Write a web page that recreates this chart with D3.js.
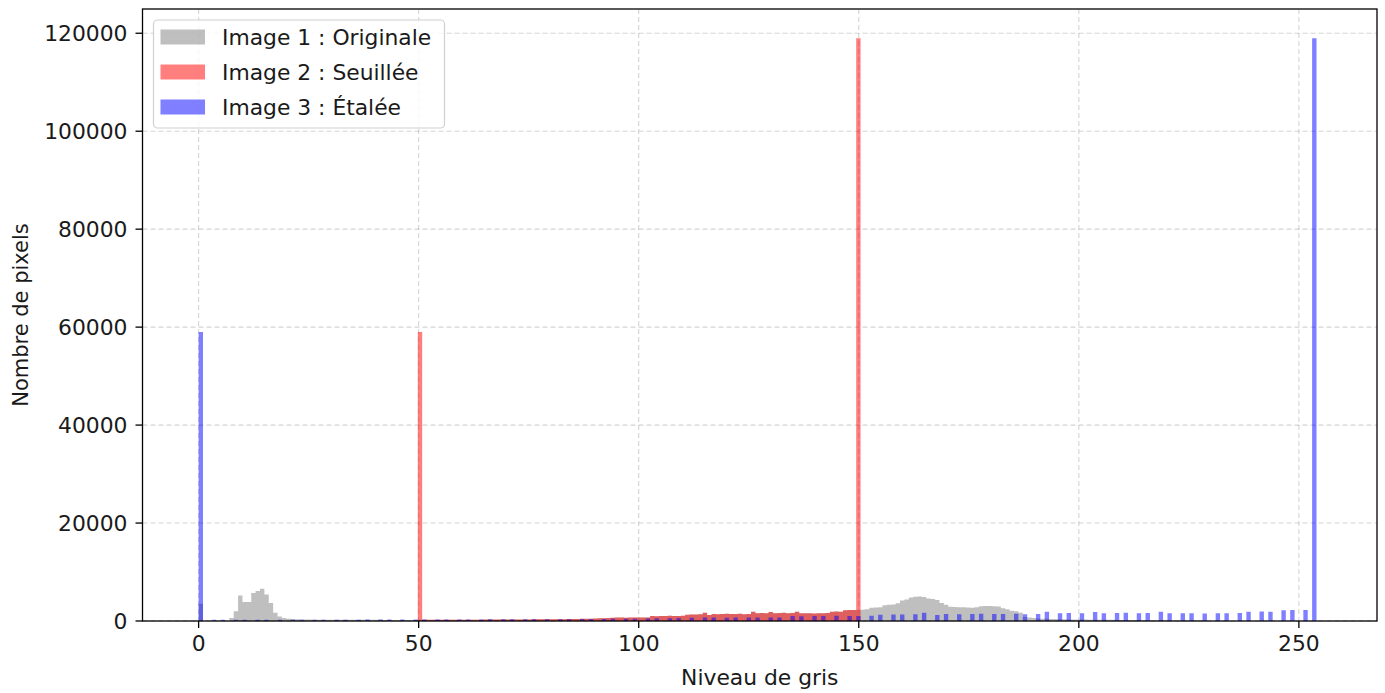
<!DOCTYPE html>
<html>
<head>
<meta charset="utf-8">
<script src="https://cdn.jsdelivr.net/npm/d3@7"></script>
<style>
  body { margin: 0; background: #fff; }
  text { font-family: "DejaVu Sans", sans-serif; fill: #1a1a1a; }
</style>
</head>
<body>
<div id="chart"></div>
<script>
// Histogram counts (256 bins over grey levels 0..255)
// Image 1 : bins 0..50
const grayLow = [3500, 0, 0, 0, 0, 0, 0, 600, 2000, 5200, 3900, 3900, 5700, 6100, 6600, 5400,
  3700, 1700, 900, 600, 450, 400, 350, 320, 300, 290, 280, 280, 270, 270, 260, 260, 250, 250,
  250, 240, 240, 240, 230, 230, 230, 230, 220, 220, 220, 220, 220, 220, 220, 220, 230];
// bins 51..149 (shared by Image 1 and Image 2, which is the clipped original)
const midCounts = [240, 240, 250, 250, 250, 260, 260, 260, 270, 270, 270, 280, 280, 280, 290,
  290, 300, 300, 300, 310, 310, 320, 320, 330, 330, 340, 340, 350, 350, 360, 360, 370, 380,
  390, 400, 420, 440, 460, 480, 500, 540, 580, 620,
  680, 690, 700, 680, 700, 720, 700, 690, 710,
  1000, 980, 1020, 1000, 1050, 1000, 1030, 1060,
  1300, 1350, 1320, 1380, 1700, 1250,
  1450, 1400, 1420, 1500, 1450, 1430, 1480, 1400, 1450,
  1900, 1600, 1650, 1600, 1850, 1600, 1620, 1700, 1600, 1650,
  1900, 1560, 1600, 1580, 1550, 1600, 1560, 1620,
  1900, 1950, 1900, 2200, 2250, 2250];
// bins 150..255
const grayHigh = [2250, 2300, 2400, 2700, 2750, 2800, 3200, 3300, 3350, 3600, 4200, 4400,
  4800, 4950, 5000, 4900, 4600, 4500, 4300, 3700, 3300,
  2900, 2850, 2800, 2800, 2750, 2700, 2800, 3000, 3050, 3050, 3000, 2950, 2600, 2400,
  2100, 2000, 1700, 800, 700, 600, 500, 470, 450, 420, 400,
  350, 340, 330, 320, 310, 300, 290, 280, 270, 260, 250, 240, 230, 220, 210, 200, 200, 190,
  180, 170, 160, 150, 150, 140, 130, 120, 120, 110, 110, 100, 100, 100, 100, 100,
  0, 0, 0, 0, 0, 0, 0, 0, 0, 0, 0, 0, 0, 0, 0, 0, 0, 0, 0, 0, 0, 0, 0, 0, 0, 0];

// Image 2 : everything below 50 piles up in bin 50, everything above 150 in bin 150
const redPeakBins = [50, 150];
const redPeakCounts = [59000, 119000];

// Image 3 : stretched, one bar every ~2.5 grey levels
const blueBins = [0, 3, 5, 8, 10, 13, 15, 18, 21, 23, 26, 28, 31, 33, 36, 38, 41, 43, 46, 49,
  51, 54, 56, 59, 61, 64, 66, 69, 71, 74, 76, 79, 82, 84, 87, 89, 92, 94, 97, 99,
  102, 104, 107, 109, 112, 115, 117, 120, 122, 125, 127, 130, 132, 135, 137, 140, 142, 145,
  148, 150, 153, 155, 158, 160, 163, 165, 168, 170, 173, 176, 178, 181, 183, 186, 188, 191,
  193, 196, 198, 201, 204, 206, 209, 211, 214, 216, 219, 221, 224, 226, 229, 232, 234, 237,
  239, 242, 244, 247, 249, 252, 254];
const blueEnds = [59000, 119000];

const legendLabels = ["Image 1 : Originale", "Image 2 : Seuillée", "Image 3 : Étalée"];
const seriesColors = ["gray", "red", "blue"];
const xTicks = [0, 50, 100, 150, 200, 250];
const yTicks = [0, 20000, 40000, 60000, 80000, 100000, 120000];

// build bin tables
const grayCounts = grayLow.concat(midCounts, grayHigh);
const redTable = redPeakBins.map((b, i) => ({ bin: b, count: redPeakCounts[i] }))
  .concat(midCounts.map((c, i) => ({ bin: 51 + i, count: c })));
const grayTable = grayCounts.map((c, i) => ({ bin: i, count: c })).filter(d => d.count > 0);
const blueCounts = [blueEnds[0]].concat(midCounts, [blueEnds[1]]);
const blueTable = blueBins.map((b, i) => ({ bin: b, count: blueCounts[i] }));

const W = 1385, H = 693;
const sx = 1.04;
const fs = 21;
const mL = 142.5, mR = 1377, mT = 9, mB = 621;
const binW = 255 / 256;

const x = d3.scaleLinear().domain([-12.75, 267.75]).range([mL, mR]);
const y = d3.scaleLinear().domain([0, 124950]).range([mB, mT]);

const svg = d3.select("#chart").append("svg")
  .attr("width", W).attr("height", H);

// grid
const grid = svg.append("g").attr("stroke", "#b0b0b0").attr("stroke-opacity", 0.55)
  .attr("stroke-width", 1.1).attr("stroke-dasharray", "5,3");
grid.selectAll(".gx").data(xTicks).join("line").attr("class", "gx")
  .attr("x1", d => x(d)).attr("x2", d => x(d)).attr("y1", mT).attr("y2", mB);
grid.selectAll(".gy").data(yTicks).join("line").attr("class", "gy")
  .attr("x1", mL).attr("x2", mR).attr("y1", d => y(d)).attr("y2", d => y(d));

// histograms, one path per series so bins do not leave seams
function barsPath(table) {
  return table.map(d => {
    const x0 = x(d.bin * binW), x1 = x((d.bin + 1) * binW);
    const y0 = y(0), y1 = y(d.count);
    return `M${x0},${y0}H${x1}V${y1}H${x0}Z`;
  }).join("");
}
[grayTable, redTable, blueTable].forEach((t, i) => {
  svg.append("path")
    .attr("d", barsPath(t))
    .attr("fill", seriesColors[i])
    .attr("fill-opacity", 0.5);
});

// frame
svg.append("rect")
  .attr("x", mL).attr("y", mT)
  .attr("width", mR - mL).attr("height", mB - mT)
  .attr("fill", "none").attr("stroke", "#000").attr("stroke-width", 1.3);

// x axis
const xAxis = svg.append("g");
xAxis.selectAll("line").data(xTicks).join("line")
  .attr("x1", d => x(d)).attr("x2", d => x(d))
  .attr("y1", mB).attr("y2", mB + 7)
  .attr("stroke", "#000").attr("stroke-width", 1.3);
xAxis.selectAll("text").data(xTicks).join("text")
  .attr("transform", d => `translate(${x(d)},651) scale(${sx},1)`)
  .attr("text-anchor", "middle")
  .style("font-size", fs + "px")
  .text(d => d);

svg.append("text")
  .attr("transform", `translate(${(mL + mR) / 2},684.5) scale(${sx},1)`)
  .attr("text-anchor", "middle")
  .style("font-size", fs + "px")
  .text("Niveau de gris");

// y axis
const yAxis = svg.append("g");
yAxis.selectAll("line").data(yTicks).join("line")
  .attr("x1", mL - 7).attr("x2", mL)
  .attr("y1", d => y(d)).attr("y2", d => y(d))
  .attr("stroke", "#000").attr("stroke-width", 1.3);
yAxis.selectAll("text").data(yTicks).join("text")
  .attr("transform", d => `translate(${mL - 15},${y(d) + 7.6}) scale(${sx},1)`)
  .attr("text-anchor", "end")
  .style("font-size", fs + "px")
  .text(d => d);

svg.append("text")
  .attr("transform", `translate(27.5,${(mT + mB) / 2}) scale(${sx},1) rotate(-90)`)
  .attr("text-anchor", "middle")
  .style("font-size", fs + "px")
  .text("Nombre de pixels");

// legend
const legend = svg.append("g");
legend.append("rect")
  .attr("x", 153.5).attr("y", 20).attr("width", 291).attr("height", 108).attr("rx", 4)
  .attr("fill", "#fff").attr("fill-opacity", 0.8)
  .attr("stroke", "#d0d0d0").attr("stroke-width", 1.2);
const rows = legend.selectAll(".row").data(legendLabels).join("g").attr("class", "row")
  .attr("transform", (d, i) => `translate(0,${37 + i * 35})`);
rows.append("rect")
  .attr("x", 160.5).attr("y", -7.5).attr("width", 44.5).attr("height", 15)
  .attr("fill", (d, i) => seriesColors[i]).attr("fill-opacity", 0.5);
rows.append("text")
  .attr("transform", `translate(222,7.6) scale(${sx},1)`)
  .style("font-size", fs + "px")
  .text(d => d);
</script>
</body>
</html>
